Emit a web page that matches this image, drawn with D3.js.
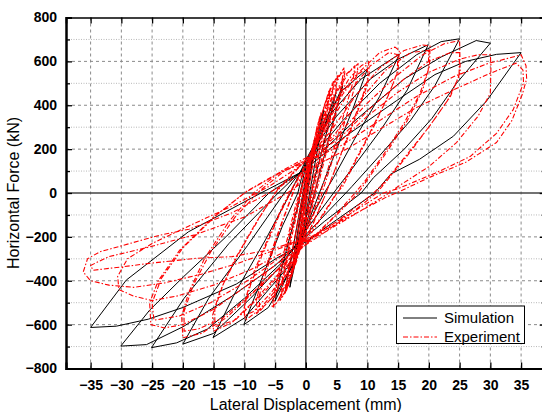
<!DOCTYPE html>
<html><head><meta charset="utf-8">
<script src="https://cdn.jsdelivr.net/npm/d3@7"></script>
<style>body{margin:0;background:#fff}svg{display:block}</style>
</head><body><svg id="c" width="542" height="412"></svg>
<script>
const xTicks = [-35,-30,-25,-20,-15,-10,-5,0,5,10,15,20,25,30,35];
const yTicks = [-800,-600,-400,-200,0,200,400,600,800];
const yMinorTicks = [-700,-500,-300,-100,100,300,500,700];
const xTitle = "Lateral Displacement (mm)";
const yTitle = "Horizontal Force (kN)";
const seriesNames = ["Simulation","Experiment"];

const simulation = [
[0,0],[1.5,250],[1.0,130],[0.2,0],[-0.4,-90],[-1.8,-300],[-1.2,-170],[-0.3,-20],[0.3,60],
[2.9,379],[2.1,230],[0.8,30],[0,-100],[-2.6,-430],[-1.9,-280],[-0.7,-60],[0.2,80],
[1.7,200],[4.9,458],[3.6,300],[1.2,40],[0,-120],[-1.5,-300],[-3.4,-455],[-2.6,-330],[-1,-80],[0.2,100],
[2.3,250],[6.0,489],[4.2,300],[1.8,40],[0,-150],[-2.2,-330],[-5.0,-492],[-3.8,-330],[-1.3,-60],[0,130],
[3,330],[6,470],[10,565],[7.6,380],[4.3,150],[2.2,0],[0,-160],[-2.5,-350],[-6.1,-522],[-10.1,-601],[-7.3,-400],[-3.8,-150],[-1.3,0],[0,150],
[4,360],[9,520],[15.2,633],[12,440],[8,250],[4.5,70],[3,0],[0,-160],[-3,-340],[-10,-570],[-15.1,-659],[-11.6,-460],[-6.5,-210],[-2.5,0],[0,150],
[5,350],[10.5,520],[15,610],[19.9,676],[16.5,470],[12,280],[7.5,110],[4.5,0],[0,-170],[-4,-330],[-9,-480],[-15,-640],[-20,-689],[-15.8,-480],[-9.5,-240],[-3.5,0],[0,130],
[6,330],[12,500],[18,630],[22,690],[25,703],[21,490],[17,330],[12,170],[7.5,30],[6.5,0],[0,-190],[-4,-320],[-10,-480],[-16,-620],[-21,-683],[-25.1,-705],[-19.8,-480],[-12.5,-230],[-4.5,0],[0,120],
[8,330],[16,520],[22,620],[27.7,695],[30,683],[24.5,500],[20.5,340],[16,200],[11,70],[9,0],[3,-130],[0,-200],[-5,-330],[-12,-470],[-20,-610],[-25.9,-691],[-30.1,-698],[-25.4,-534],[-19.9,-382],[-13,-200],[-6,0],[0,110],
[6,250],[14.7,420],[21,540],[26,600],[31,632],[35,640],[29.4,420],[24,259],[18.5,154],[13.8,86],[11.2,0],[4.2,-138],[0.3,-217],[-4.8,-298],[-11.3,-415],[-20,-522],[-25.6,-575],[-30.8,-607],[-35,-613],[-29.2,-397],[-19.1,-177],[-7.3,0],[0,106]
];

const experiment = [
[0,0],[0.5,110],[1.0,200],[0.8,150],[0.3,40],[-0.2,-50],[-0.8,-170],[-1.1,-220],[-0.8,-150],[-0.2,-20],[0.3,60],
[0.8,170],[1.3,240],[1.0,170],[0.4,50],[-0.3,-70],[-0.9,-190],[-1.3,-250],[-0.9,-160],[-0.2,-10],
[0.6,120],[1.5,260],[2.3,350],[2.0,280],[1.1,130],[0.4,10],[-0.5,-140],[-1.5,-290],[-2.2,-370],[-1.8,-280],[-0.9,-120],[0,30],
[0.8,160],[1.8,300],[2.5,370],[2.1,290],[1.2,140],[0.5,20],[-0.4,-130],[-1.4,-280],[-2.3,-380],[-1.9,-290],[-1.0,-130],[-0.1,20],
[1.0,170],[2.4,340],[3.8,470],[3.4,390],[2.2,210],[1.0,30],[-0.3,-140],[-1.8,-320],[-3.2,-450],[-2.8,-360],[-1.6,-180],[-0.4,0],
[1.2,190],[2.7,370],[4.0,480],[3.5,380],[2.3,200],[1.1,20],[-0.2,-150],[-1.9,-330],[-3.4,-460],[-3.0,-370],[-1.7,-190],[-0.5,-10],
[1.5,240],[3,400],[4.5,510],[4.2,430],[3,250],[1.6,60],[0.3,-100],[-1.2,-270],[-2.8,-420],[-4,-480],[-3.6,-380],[-2.3,-200],[-0.8,-10],[0.5,150],
[2.2,330],[4,470],[5.2,540],[4.8,450],[3.3,250],[1.8,50],[0.5,-120],[-1.5,-310],[-3.3,-450],[-4.2,-490],[-3.8,-390],[-2.4,-190],[-0.9,0],
[1.3,180],[3.2,390],[5.0,520],[6.2,570],[5.7,480],[4.0,280],[2.0,70],[0.8,-60],[-0.8,-220],[-2.7,-380],[-4.5,-490],[-5.3,-520],[-4.8,-430],[-3.2,-250],[-1.5,-60],[-0.2,70],
[1.6,220],[3.6,410],[5.6,540],[6.4,560],[5.8,470],[4.1,270],[2.2,60],[0.9,-80],[-0.8,-240],[-2.8,-400],[-4.7,-500],[-5.5,-520],[-4.9,-420],[-3.3,-240],[-1.6,-50],[0,90],
[1.8,230],[4,420],[6.5,540],[8,580],[7.6,500],[5.8,320],[3.6,110],[2,-30],[0,-180],[-2.5,-340],[-5,-460],[-7.5,-540],[-7.6,-470],[-6,-320],[-3.8,-130],[-1.8,20],[0,110],
[2.2,260],[4.6,440],[7,550],[8.5,590],[8.2,510],[6.4,330],[4,120],[2.4,-20],[0.2,-170],[-2.2,-320],[-5.2,-470],[-8,-550],[-8,-480],[-6.4,-330],[-4,-140],[-2,10],[0,100],
[2,230],[4.5,400],[7,520],[9,580],[10.2,600],[10.3,540],[9.2,440],[7.2,290],[4.8,110],[3.3,0],[1.2,-140],[-1.5,-290],[-4.5,-430],[-7.5,-530],[-9.8,-580],[-10.1,-530],[-9,-420],[-6.8,-260],[-4.3,-100],[-2.2,20],[0,120],
[2.5,260],[5,420],[7.8,530],[10,570],[10.1,500],[8.8,400],[6.8,250],[4.5,90],[3,-20],[0.6,-170],[-2.2,-310],[-5.5,-450],[-8.5,-540],[-10,-560],[-9.9,-490],[-8.6,-370],[-6.2,-210],[-3.8,-60],[-1.5,60],[0,130],
[3,290],[6,450],[9,560],[12,640],[14.5,665],[15.2,650],[15,560],[13.5,450],[11,300],[8,140],[6,30],[5,0],[2,-130],[-1,-240],[-4.5,-370],[-8,-480],[-12,-590],[-15,-630],[-15.2,-560],[-14,-450],[-11.5,-300],[-8,-130],[-5,0],[-2,90],[0,150],
[3.5,300],[7,460],[10.5,580],[13.5,640],[15,630],[14.8,540],[13,420],[10.5,280],[7.5,120],[5.5,20],[3.5,-70],[0.5,-200],[-3,-330],[-7,-460],[-11.5,-580],[-14.8,-610],[-14.8,-530],[-13.5,-420],[-11,-280],[-7.5,-110],[-4.5,20],[-1.5,110],[0,150],
[4,280],[8,440],[12,570],[16,650],[19,675],[20.2,670],[20.1,580],[19,470],[16.5,330],[13,180],[10,60],[8.5,0],[5,-100],[1,-210],[-3,-310],[-8,-440],[-13,-570],[-17,-640],[-20,-660],[-20.2,-560],[-19,-450],[-16.5,-300],[-12.5,-130],[-8.5,0],[-4,100],[0,160],
[4.5,260],[9,430],[13,560],[17,640],[20,650],[19.9,560],[18.5,450],[16,320],[12.5,170],[9.5,50],[8,0],[4.5,-110],[0.5,-220],[-3.5,-320],[-8.5,-450],[-13.5,-570],[-17.5,-620],[-19.8,-630],[-19.8,-540],[-18.3,-420],[-15.5,-270],[-11.5,-110],[-7.5,10],[-3.5,100],[0,150],
[5,260],[10,410],[15,540],[19,630],[22.5,680],[25,695],[25.1,550],[23.5,440],[20.5,320],[16.5,170],[13,50],[11.5,0],[7,-100],[2,-200],[-3,-290],[-9,-410],[-15,-530],[-20,-600],[-23,-615],[-25.2,-600],[-25.4,-500],[-24,-400],[-20.5,-260],[-15,-110],[-10,0],[-5,80],[0,150],
[5.5,250],[11,400],[16,520],[20,600],[23.5,640],[25,640],[24.9,530],[23,420],[20,300],[16,160],[12.5,40],[11,0],[6.5,-100],[1.5,-200],[-3.5,-280],[-9.5,-400],[-15.5,-500],[-20.5,-560],[-24.7,-580],[-25,-500],[-23.5,-390],[-20,-250],[-14.5,-100],[-9.5,10],[-4.5,90],[0,140],
[5,220],[10,350],[15,460],[20,550],[25,610],[28,630],[30,630],[30.1,577],[30,455],[28,350],[24.5,230],[20,120],[15,30],[13.5,0],[9,-80],[3,-180],[-3,-260],[-9,-350],[-15,-420],[-21,-470],[-25,-490],[-28,-470],[-30.4,-440],[-30.6,-380],[-29,-300],[-25,-230],[-19,-150],[-12,-60],[-6,30],[0,140],
[6,220],[12,330],[18,440],[24,530],[29.6,590],[33,615],[35,630],[35.8,580],[35.9,520],[35.2,450],[33.5,330],[31,230],[26,140],[20,70],[15.5,10],[13,-20],[7,-110],[1,-200],[-5,-260],[-11,-320],[-17,-370],[-23,-410],[-28,-430],[-32,-420],[-35,-400],[-36.2,-360],[-35.5,-300],[-33.5,-268],[-28.6,-230],[-23.7,-192],[-19,-165],[-12,-90],[-6,0],[0,100],
[6,190],[12,290],[18,390],[24,470],[30,546],[34.2,592],[35.3,560],[35.4,502],[33.7,379],[31,272],[26.7,166],[21,90],[15,20],[12.6,0],[6.5,-107],[0.8,-200],[-6,-260],[-12,-290],[-17.9,-298],[-25.5,-321],[-30,-337],[-34.6,-352],[-35,-330],[-32,-290],[-26,-250],[-18,-190],[-10,-110],[-3,0],[0,60]
];

const svg = d3.select("#c");
const L = 66, R = 545.7, T = 17.5, B = 368.5;
const x = d3.scaleLinear().domain([-39, 39]).range([L, R]);
const y = d3.scaleLinear().domain([-800, 800]).range([B, T]);

svg.append("defs").append("clipPath").attr("id","clip")
  .append("rect").attr("x",L).attr("y",T).attr("width",R-L).attr("height",B-T);

const grid = svg.append("g");
grid.selectAll(".vx").data(xTicks.filter(d=>d!==0)).join("line")
  .attr("x1",d=>x(d)).attr("x2",d=>x(d)).attr("y1",T).attr("y2",B)
  .attr("stroke","#8a8a8a").attr("stroke-width",1).attr("stroke-dasharray","3,3");
grid.selectAll(".hy").data(yTicks.filter(d=>d!==0 && Math.abs(d)!==800)).join("line")
  .attr("x1",L).attr("x2",R).attr("y1",d=>y(d)).attr("y2",d=>y(d))
  .attr("stroke","#8a8a8a").attr("stroke-width",1).attr("stroke-dasharray","3,3");
grid.selectAll(".hm").data(yMinorTicks).join("line")
  .attr("x1",L).attr("x2",R).attr("y1",d=>y(d)).attr("y2",d=>y(d))
  .attr("stroke","#b8b8b8").attr("stroke-width",1).attr("stroke-dasharray","1,1.5");

svg.append("line").attr("x1",x(0)).attr("x2",x(0)).attr("y1",T).attr("y2",B)
  .attr("stroke","#444").attr("stroke-width",1.6);
svg.append("line").attr("x1",L).attr("x2",R).attr("y1",y(0)).attr("y2",y(0))
  .attr("stroke","#444").attr("stroke-width",1.6);

const line = d3.line().x(d=>x(d[0])).y(d=>y(d[1]));
const plot = svg.append("g").attr("clip-path","url(#clip)");
plot.append("path").datum(simulation).attr("d",line)
  .attr("fill","none").attr("stroke","#000").attr("stroke-width",1).attr("stroke-linejoin","round");
plot.append("path").datum(experiment).attr("d",line)
  .attr("fill","none").attr("stroke","#ff0000").attr("stroke-width",1.1)
  .attr("stroke-dasharray","5,2,1.5,2").attr("stroke-linejoin","round");

const fmt = d3.format("d");
const axB = d3.axisBottom(x).tickValues(xTicks).tickSize(-6).tickPadding(12).tickFormat(fmt);
const axT = d3.axisTop(x).tickValues(xTicks).tickSize(-6).tickFormat("");
const axL = d3.axisLeft(y).tickValues(yTicks).tickSize(-6).tickPadding(9).tickFormat(fmt);
const axLm = d3.axisLeft(y).tickValues(yMinorTicks).tickSize(-4).tickFormat("");
const axR = d3.axisRight(y).tickValues(yTicks).tickSize(-6).tickFormat("");
const axRm = d3.axisRight(y).tickValues(yMinorTicks).tickSize(-4).tickFormat("");

function style(g, w){
  g.select(".domain").attr("stroke","#000").attr("stroke-width",w);
  g.selectAll(".tick line").attr("stroke","#000").attr("stroke-width",1.3);
  g.selectAll(".tick text").attr("fill","#000")
    .attr("font-family","'Liberation Sans', Arial, sans-serif")
    .attr("font-weight","bold").attr("font-size","14px");
}
svg.append("g").attr("transform",`translate(0,${T})`).call(axT).call(g=>style(g,1.6));
svg.append("g").attr("transform",`translate(${R},0)`).call(axR).call(g=>style(g,1.6));
svg.append("g").attr("transform",`translate(${R},0)`).call(axRm).call(g=>style(g,1.6));
svg.append("g").attr("transform",`translate(${L},0)`).call(axLm).call(g=>style(g,2));
svg.append("g").attr("transform",`translate(${L},0)`).call(axL).call(g=>style(g,2));
svg.append("g").attr("transform",`translate(0,${B})`).call(axB).call(g=>style(g,2));

svg.append("text").attr("x",x(0)).attr("y",409.5).attr("text-anchor","middle")
  .attr("font-family","'Liberation Sans', Arial, sans-serif").attr("font-size","16px").text(xTitle);
svg.append("text").attr("transform",`translate(19,${y(0)}) rotate(-90)`).attr("text-anchor","middle")
  .attr("font-family","'Liberation Sans', Arial, sans-serif").attr("font-size","16px").text(yTitle);

const lg = svg.append("g");
lg.append("rect").attr("x",396.5).attr("y",306).attr("width",128).attr("height",37.5)
  .attr("fill","#fff").attr("stroke","#000").attr("stroke-width",1);
const items = [{name:seriesNames[0],color:"#000",dash:null,w:1},{name:seriesNames[1],color:"#ff0000",dash:"5,2,1.5,2",w:1.1}];
items.forEach((it,i)=>{
  const yy = 318 + i*19;
  lg.append("line").attr("x1",403).attr("x2",437).attr("y1",yy).attr("y2",yy)
    .attr("stroke",it.color).attr("stroke-width",it.w).attr("stroke-dasharray",it.dash);
  lg.append("text").attr("x",444).attr("y",yy+5).attr("font-family","'Liberation Sans', Arial, sans-serif")
    .attr("font-size","15px").text(it.name);
});
</script></body></html>
